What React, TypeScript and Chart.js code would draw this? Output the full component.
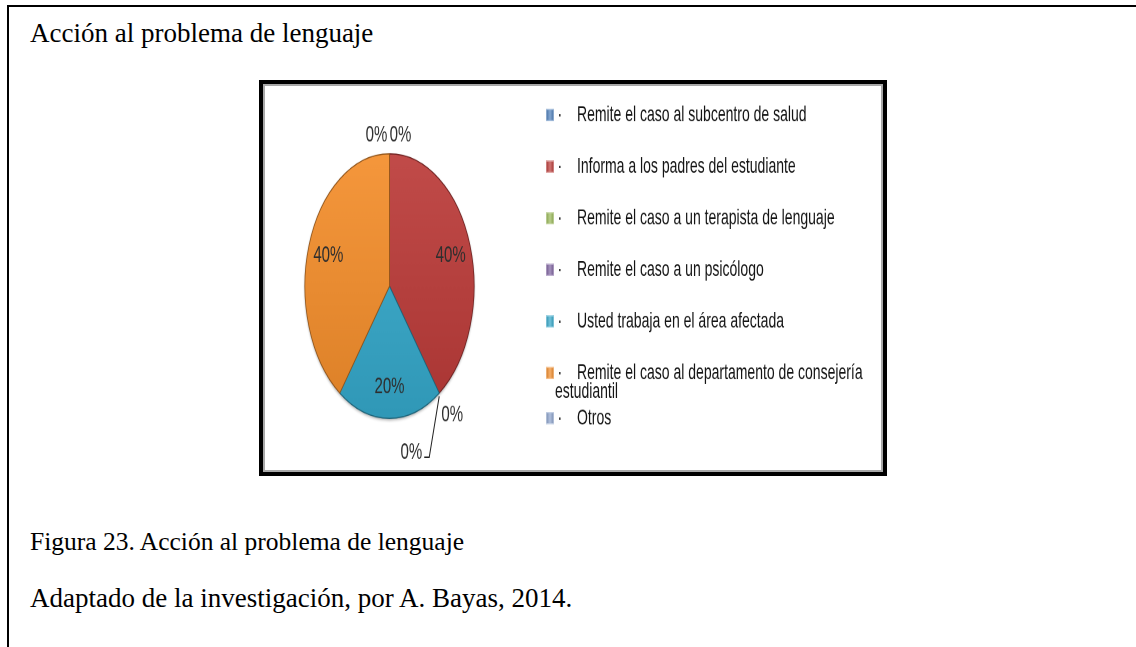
import React, { useEffect, useRef } from "react";
import { Chart, registerables } from "chart.js";

Chart.register(...registerables);

// ---------- data ----------
const categories = [
  "Remite el caso al subcentro de salud",
  "Informa a los padres del estudiante",
  "Remite el caso a un terapista de lenguaje",
  "Remite el caso a un psicólogo",
  "Usted trabaja en el área afectada",
  "Remite el caso al departamento de consejería estudiantil",
  "Otros",
];
const percentages = [0, 40, 0, 0, 20, 40, 0];
const sliceColors = ["#4F81BD", "#BC3B39", "#9BBB59", "#8064A2", "#35A9CB", "#F48E2B", "#8EA5CE"];

const pageTitle = "Acción al problema de lenguaje";
const captionFigure = "Figura 23. Acción al problema de lenguaje";
const captionSource = "Adaptado de la investigación, por A. Bayas, 2014.";

// ---------- layout (style) ----------
const CANVAS_W = 614;
const CANVAS_H_CSS = 383;
const CANVAS_H = 245; // logical height, bitmap stretched vertically like the source image
const LABEL_FONT = 15;
const LEGEND_FONT = 14;
const FONT_SANS = '"Liberation Sans", Arial, sans-serif';

function shade(hex: string, f: number): string {
  const n = parseInt(hex.slice(1), 16);
  let r = (n >> 16) & 255, g = (n >> 8) & 255, b = n & 255;
  if (f >= 0) {
    r = r + (255 - r) * f; g = g + (255 - g) * f; b = b + (255 - b) * f;
  } else {
    r = r * (1 + f); g = g * (1 + f); b = b * (1 + f);
  }
  return `rgb(${Math.round(r)},${Math.round(g)},${Math.round(b)})`;
}

const shadowPlugin = {
  id: "pieShadow",
  beforeDatasetsDraw(chart: any) {
    const meta = chart.getDatasetMeta(0);
    const arc = meta.data[0];
    if (!arc) return;
    const { x, y, outerRadius } = arc.getProps(["x", "y", "outerRadius"], true);
    const ctx = chart.ctx;
    ctx.save();
    ctx.shadowColor = "rgba(0,0,0,0.4)";
    ctx.shadowBlur = 4;
    ctx.shadowOffsetY = 2;
    ctx.beginPath();
    ctx.arc(x, y, outerRadius, 0, Math.PI * 2);
    ctx.fillStyle = "#ffffff";
    ctx.fill();
    ctx.restore();
  },
};

const labelPlugin = {
  id: "sliceLabels",
  afterDatasetsDraw(chart: any) {
    const ctx = chart.ctx;
    const meta = chart.getDatasetMeta(0);
    const arcs = meta.data as any[];
    const groups = new Map<number, number[]>();
    ctx.save();
    ctx.font = `${LABEL_FONT}px ${FONT_SANS}`;
    ctx.fillStyle = "#2e2e2e";
    ctx.strokeStyle = "#222222";
    ctx.lineWidth = 1;
    arcs.forEach((arc, i) => {
      const p = arc.getProps(["x", "y", "startAngle", "endAngle", "outerRadius"], true);
      const text = `${percentages[i]}%`;
      if (percentages[i] > 0) {
        const mid = (p.startAngle + p.endAngle) / 2;
        const r = p.outerRadius * 0.76;
        ctx.textAlign = "center";
        ctx.textBaseline = "middle";
        ctx.fillText(text, p.x + Math.cos(mid) * r, p.y + Math.sin(mid) * r);
      } else {
        let a = p.startAngle % (Math.PI * 2);
        if (a < 0) a += Math.PI * 2;
        const key = Math.round(a * 1000);
        if (!groups.has(key)) groups.set(key, []);
        groups.get(key)!.push(i);
      }
    });
    groups.forEach((members) => {
      members.forEach((i, j) => {
        const p = arcs[i].getProps(["x", "y", "startAngle", "outerRadius"], true);
        const ex = p.x + Math.cos(p.startAngle) * p.outerRadius;
        const ey = p.y + Math.sin(p.startAngle) * p.outerRadius;
        const text = `${percentages[i]}%`;
        const isTop = Math.sin(p.startAngle) < -0.99;
        ctx.textBaseline = "middle";
        if (isTop) {
          ctx.textAlign = "center";
          ctx.fillText(text, ex + (j === 0 ? 11 : -13), ey - 12);
        } else if (j === 0) {
          ctx.textAlign = "center";
          ctx.fillText(text, ex + 13, ey + 14);
        } else {
          const lx = ex - 10;
          const ly = ey + 41;
          ctx.beginPath();
          ctx.moveTo(ex, ey + 2);
          ctx.lineTo(lx, ly);
          ctx.lineTo(lx - 5, ly);
          ctx.stroke();
          ctx.textAlign = "right";
          ctx.textBaseline = "alphabetic";
          ctx.fillText(text, lx - 7, ly + 1);
        }
      });
    });
    ctx.restore();
  },
};

// legend geometry in canvas (logical) units
const MARK_X = 280;
const MARK_W = 8;
const MARK_H = 7.7;
const DOT_X = 291.5;
const TEXT_X = 311;
const WRAP_X = 289;
const MAX_X = 609;
const LEGEND_TOP = 18.6;
const ROW_STEP = 33.0;
const LINE_H = 12.2;
const WRAP_GAP = 16.6;

const legendPlugin = {
  id: "sideLegend",
  afterDraw(chart: any) {
    const ctx = chart.ctx;
    ctx.save();
    ctx.font = `${LEGEND_FONT}px ${FONT_SANS}`;
    ctx.textBaseline = "middle";
    ctx.textAlign = "left";
    let y = LEGEND_TOP;
    categories.forEach((label, i) => {
      const col = sliceColors[i];
      const g = ctx.createLinearGradient(MARK_X, 0, MARK_X + MARK_W, 0);
      g.addColorStop(0, shade(col, -0.15));
      g.addColorStop(0.5, shade(col, 0.3));
      g.addColorStop(1, shade(col, -0.15));
      ctx.fillStyle = g;
      ctx.fillRect(MARK_X, y - MARK_H / 2, MARK_W, MARK_H);
      ctx.strokeStyle = shade(col, 0.55);
      ctx.lineWidth = 0.6;
      ctx.strokeRect(MARK_X + 0.3, y - MARK_H / 2 + 0.3, MARK_W - 0.6, MARK_H - 0.6);
      ctx.fillStyle = "#141414";
      ctx.fillText("·", DOT_X, y);
      const words = label.split(" ");
      const lines: { text: string; x: number }[] = [];
      let line = "";
      let x0 = TEXT_X;
      words.forEach((w) => {
        const test = line ? line + " " + w : w;
        if (line && x0 + ctx.measureText(test).width > MAX_X) {
          lines.push({ text: line, x: x0 });
          line = w;
          x0 = WRAP_X;
        } else {
          line = test;
        }
      });
      lines.push({ text: line, x: x0 });
      lines.forEach((ln, k) => ctx.fillText(ln.text, ln.x, y + k * LINE_H));
      y += (lines.length - 1) * LINE_H + (lines.length > 1 ? WRAP_GAP : ROW_STEP);
    });
    ctx.restore();
  },
};

function PieChart() {
  const ref = useRef<HTMLCanvasElement | null>(null);
  useEffect(() => {
    if (!ref.current) return;
    const chart = new Chart(ref.current, {
      type: "pie",
      data: {
        labels: categories,
        datasets: [
          {
            data: percentages,
            backgroundColor: (c: any) => {
              const col = sliceColors[c.dataIndex];
              const area = c.chart.chartArea;
              if (!area) return col;
              const g = c.chart.ctx.createLinearGradient(0, area.top, 0, area.bottom);
              g.addColorStop(0, shade(col, 0.08));
              g.addColorStop(1, shade(col, -0.1));
              return g;
            },
            borderColor: sliceColors.map((c) => shade(c, -0.4)),
            borderWidth: 0.8,
          },
        ],
      },
      options: {
        responsive: false,
        maintainAspectRatio: false,
        animation: false,
        devicePixelRatio: 2,
        layout: { padding: { left: 38.5, right: 405.5, top: 43, bottom: 32 } },
        plugins: {
          legend: { display: false },
          tooltip: { enabled: false },
          title: { display: false },
        },
      },
      plugins: [shadowPlugin, labelPlugin, legendPlugin],
    });
    return () => chart.destroy();
  }, []);
  return (
    <canvas
      ref={ref}
      width={CANVAS_W}
      height={CANVAS_H}
      style={{
        position: "absolute",
        left: 266,
        top: 86,
        width: `${CANVAS_W}px`,
        height: `${CANVAS_H_CSS}px`,
      }}
    />
  );
}

const serif = '"Liberation Serif", "Times New Roman", serif';

export default function App() {
  return (
    <div
      style={{
        position: "absolute",
        left: 0,
        top: 0,
        width: 1136,
        height: 647,
        overflow: "hidden",
        background: "#ffffff",
      }}
    >
      <div
        style={{
          position: "absolute",
          left: 7,
          top: 5,
          width: 1300,
          height: 800,
          borderLeft: "2px solid #000",
          borderTop: "2px solid #000",
        }}
      />
      <div
        style={{
          position: "absolute",
          left: 30,
          top: 20.4,
          font: `27px ${serif}`,
          lineHeight: "27px",
          whiteSpace: "nowrap",
          color: "#000",
        }}
      >
        {pageTitle}
      </div>
      <div
        style={{
          position: "absolute",
          left: 259,
          top: 80,
          width: 628,
          height: 396,
          boxSizing: "border-box",
          border: "4px solid #000",
        }}
      >
        <div
          style={{
            position: "absolute",
            inset: 0,
            border: "2px solid #a8a8a8",
            background: "#fff",
          }}
        />
      </div>
      <PieChart />
      <div
        style={{
          position: "absolute",
          left: 30,
          top: 528.5,
          font: `25.5px ${serif}`,
          lineHeight: "25.5px",
          whiteSpace: "nowrap",
          color: "#000",
        }}
      >
        {captionFigure}
      </div>
      <div
        style={{
          position: "absolute",
          left: 30,
          top: 585.4,
          font: `27px ${serif}`,
          lineHeight: "27px",
          whiteSpace: "nowrap",
          color: "#000",
        }}
      >
        {captionSource}
      </div>
    </div>
  );
}
